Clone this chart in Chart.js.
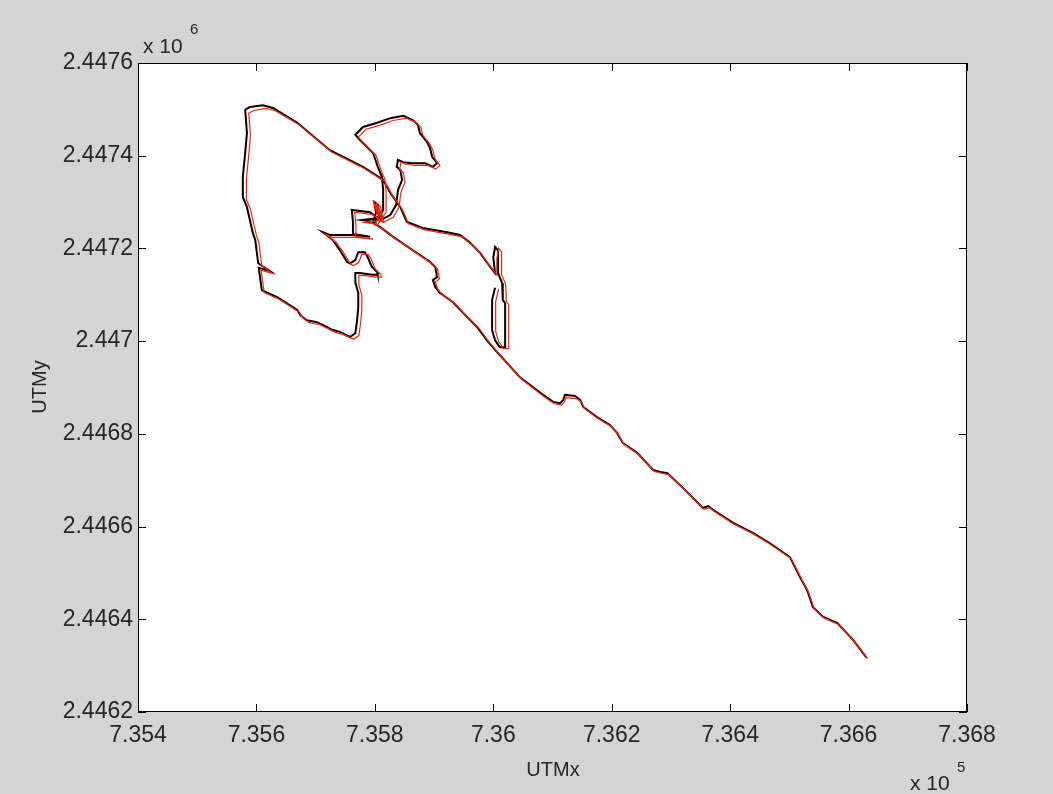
<!DOCTYPE html>
<html>
<head><meta charset="utf-8"><title>UTM track</title>
<script src="https://cdn.jsdelivr.net/npm/chart.js"></script>
<style> body{margin:0;background:#d4d4d4;} canvas{display:block;} </style>
</head>
<body>
<canvas id="track" width="1053" height="794"></canvas>
<script>
// axis ticks (metres)
const xTicks = [735400, 735600, 735800, 736000, 736200, 736400, 736600, 736800];
const yTicks = [2446200, 2446400, 2446600, 2446800, 2447000, 2447200, 2447400, 2447600];

// black track (UTM easting / northing)
const blackE = [
  736630,736608,736581,736557,736540,736530,736518,736501,736467,736439,736405,736371,736363,736354,736344,736315,736294,736282,736270,736243,736219,736209,736197,736175,736152,736147,736138,736121,736118,736113,736101,736084,736045,736016,
  736003,735989,735973,735949,735932,735922,735910,735902,735898,735905,735902,735893,735864,735831,735809,735797,
  735802,735799,735805,735809,735778,735800,735814,735814,735812,735805,735797,735775,735767,735780,735804,735826,735848,735864,735873,735876,735888,735893,735897,735905,735898,735885,735864,735848,735839,735837,735843,735846,735839,735836,735826,735809,
  735792,735761,735763,735763,735792,735763,735724,735712,
  735729,735741,735753,735758,735767,735772,735783,735788,735795,735804,735805,735795,735775,735767,735767,735772,735772,735770,735767,735758,
  735741,735729,735712,735702,735685,735674,735669,735635,735609,735604,735623,
  735603,735598,735594,735584,735577,735577,735581,735584,735581,735589,735611,735628,
  735669,735724,735780,735814,735826,735843,735854,735881,735922,735944,735961,735978,735995,736003,
  736000,736003,736008,736008,736015,736016,736020,736020,736011,736003,735998,735998,736003
];
const blackN = [
  2446318,2446355,2446392,2446405,2446426,2446463,2446491,2446534,2446564,2446586,2446608,2446636,2446644,2446640,2446653,2446690,2446715,2446718,2446722,2446759,2446780,2446802,2446819,2446836,2446858,2446873,2446882,2446884,2446873,2446866,2446869,2446884,2446922,2446963,
  2446981,2447002,2447030,2447061,2447084,2447093,2447104,2447117,2447132,2447138,2447160,2447171,2447196,2447225,2447246,2447255,
  2447278,2447300,2447294,2447266,2447261,2447257,2447283,2447326,2447354,2447376,2447406,2447434,2447445,2447462,2447471,2447481,2447486,2447477,2447466,2447449,2447430,2447417,2447397,2447384,2447376,2447384,2447384,2447386,2447391,2447376,2447369,2447348,2447326,2447294,2447272,2447261,
  2447278,2447283,2447257,2447231,2447225,2447229,2447229,2447235,
  2447218,2447196,2447171,2447168,2447175,2447192,2447192,2447181,2447160,2447149,2447143,2447143,2447147,2447147,2447127,2447104,2447074,2447045,2447017,2447009,
  2447020,2447024,2447035,2447041,2447045,2447056,2447067,2447095,2447110,2447158,2447151,
  2447168,2447218,2447233,2447289,2447311,2447354,2447406,2447449,2447499,2447505,2447509,2447503,
  2447471,2447412,2447376,2447348,2447320,2447289,2447257,2447244,2447235,2447229,2447212,2447190,2447160,2447147,
  2447181,2447203,2447196,2447147,2447125,2447089,2447082,2446987,2446987,2447002,2447024,2447089,2447115
];

// red track
const redE = [
  736632,736610,736583,736559,736542,736532,736520,736503,736469,736441,736407,736373,736365,736356,736346,736317,736296,736284,736272,736245,736221,736211,736199,736177,736154,736149,736140,736123,736120,736115,736103,736086,736047,736018,
  736007,735993,735977,735953,735936,735926,735914,735906,735902,735909,735906,735897,735868,735835,735813,735801,
  735807,735797,735805,735802,735812,735807,735815,735804,735810,735814,735783,735805,735819,735819,735817,735810,735802,735780,735772,735785,735809,735831,735853,735869,735878,735881,735893,735898,735902,735910,735903,735890,735869,735853,735844,735842,735848,735851,735844,735841,735831,735814,
  735797,735766,735768,735768,735797,735768,735729,735717,
  735735,735747,735759,735764,735773,735778,735789,735794,735801,735810,735811,735801,735781,735773,735773,735778,735778,735776,735773,735764,
  735745,735733,735716,735706,735689,735678,735673,735639,735613,735608,735627,
  735609,735604,735600,735590,735583,735583,735587,735590,735587,735595,735616,735632,
  735672,735727,735783,735817,735829,735846,735857,735884,735925,735947,735964,735981,735998,736006,
  736006,736009,736014,736014,736021,736022,736026,736026,736017,736009,736004,736004,736009
];
const redN = [
  2446315,2446352,2446389,2446402,2446423,2446460,2446488,2446531,2446561,2446583,2446605,2446633,2446641,2446637,2446650,2446687,2446712,2446715,2446719,2446756,2446777,2446799,2446816,2446833,2446855,2446868,2446876,2446878,2446869,2446862,2446865,2446880,2446919,2446960,
  2446977,2446998,2447026,2447057,2447080,2447089,2447100,2447113,2447128,2447134,2447156,2447167,2447192,2447221,2447242,2447251,
  2447273,2447304,2447272,2447296,2447259,2447287,2447257,2447295,2447289,2447261,2447256,2447252,2447278,2447321,2447349,2447371,2447401,2447429,2447440,2447457,2447466,2447476,2447481,2447472,2447461,2447444,2447425,2447412,2447392,2447379,2447371,2447379,2447379,2447381,2447386,2447371,2447364,2447343,2447321,2447289,2447267,2447256,
  2447273,2447278,2447252,2447226,2447220,2447224,2447224,2447230,
  2447213,2447191,2447166,2447163,2447170,2447187,2447187,2447176,2447155,2447144,2447138,2447138,2447142,2447142,2447122,2447099,2447069,2447040,2447012,2447004,
  2447015,2447019,2447030,2447036,2447040,2447051,2447062,2447090,2447105,2447153,2447146,
  2447163,2447213,2447228,2447284,2447306,2447349,2447401,2447444,2447492,2447497,2447502,2447497,
  2447467,2447408,2447372,2447344,2447316,2447285,2447253,2447240,2447231,2447225,2447208,2447186,2447156,2447143,
  2447178,2447200,2447193,2447144,2447122,2447086,2447079,2446984,2446984,2446999,2447021,2447086,2447112
];

const pts = (e, n) => e.map((v, i) => ({x: v, y: n[i]}));
const family = '"Liberation Sans", Arial, sans-serif';
const txt = '#262626';

// grey figure, white axes, box with inward ticks, labels
const matlabAxes = {
  id: 'matlabAxes',
  beforeDraw(chart) {
    const {ctx, chartArea: a} = chart;
    ctx.save();
    ctx.fillStyle = '#d4d4d4';
    ctx.fillRect(0, 0, chart.width, chart.height);
    ctx.fillStyle = '#fff';
    ctx.fillRect(a.left, a.top, a.right - a.left, a.bottom - a.top);
    ctx.restore();
  },
  afterDraw(chart) {
    const {ctx, chartArea: a, scales} = chart;
    ctx.save();
    ctx.strokeStyle = '#000';
    ctx.lineWidth = 1;
    ctx.strokeRect(a.left + 0.5, a.top + 0.5, a.right - a.left - 1, a.bottom - a.top - 1);
    ctx.beginPath();
    xTicks.forEach(v => {
      const x = Math.round(scales.x.getPixelForValue(v)) + 0.5;
      ctx.moveTo(x, a.bottom); ctx.lineTo(x, a.bottom - 8);
      ctx.moveTo(x, a.top); ctx.lineTo(x, a.top + 8);
    });
    yTicks.forEach(v => {
      const y = Math.round(scales.y.getPixelForValue(v)) + 0.5;
      ctx.moveTo(a.left, y); ctx.lineTo(a.left + 8, y);
      ctx.moveTo(a.right, y); ctx.lineTo(a.right - 8, y);
    });
    ctx.stroke();

    ctx.fillStyle = txt;
    ctx.textBaseline = 'alphabetic';
    ctx.font = '20px ' + family;
    ctx.textAlign = 'center';
    ctx.fillText('UTMx', 553, 776);
    ctx.save();
    ctx.translate(46, 387);
    ctx.rotate(-Math.PI / 2);
    ctx.fillText('UTMy', 0, 0);
    ctx.restore();

    ctx.textAlign = 'left';
    ctx.font = '21px ' + family;
    ctx.fillText('x 10', 143, 53);
    ctx.fillText('x 10', 910, 790);
    ctx.font = '15px ' + family;
    ctx.fillText('6', 190, 34);
    ctx.fillText('5', 957, 772);
    ctx.restore();
  }
};

new Chart(document.getElementById('track'), {
  type: 'scatter',
  data: {
    datasets: [
      { data: pts(blackE, blackN), showLine: true, borderColor: '#000', borderWidth: 2,
        pointRadius: 0, tension: 0, order: 2 },
      { data: pts(redE, redN), showLine: true, borderColor: '#ff2200', borderWidth: 1.2,
        pointRadius: 0, tension: 0, order: 1 }
    ]
  },
  options: {
    responsive: false,
    animation: false,
    layout: { padding: { top: 63, right: 86, left: 0, bottom: 0 } },
    plugins: { legend: { display: false }, tooltip: { enabled: false } },
    scales: {
      x: {
        type: 'linear', min: 735400, max: 736800,
        afterBuildTicks: s => { s.ticks = xTicks.map(v => ({value: v})); },
        afterFit: s => { s.height = 82; },
        grid: { display: false, drawTicks: false, tickLength: 0 }, border: { display: false },
        ticks: { padding: 10, color: txt, font: { family: family, size: 23 },
                 maxRotation: 0, autoSkip: false,
                 callback: v => String(+(v / 1e5).toFixed(4)) }
      },
      y: {
        type: 'linear', min: 2446200, max: 2447600,
        afterBuildTicks: s => { s.ticks = yTicks.map(v => ({value: v})); },
        afterFit: s => { s.width = 138; },
        grid: { display: false, drawTicks: false, tickLength: 0 }, border: { display: false },
        ticks: { padding: 5, color: txt, font: { family: family, size: 23 },
                 autoSkip: false,
                 callback: v => String(+(v / 1e6).toFixed(4)) }
      }
    }
  },
  plugins: [matlabAxes]
});
</script>
</body>
</html>
